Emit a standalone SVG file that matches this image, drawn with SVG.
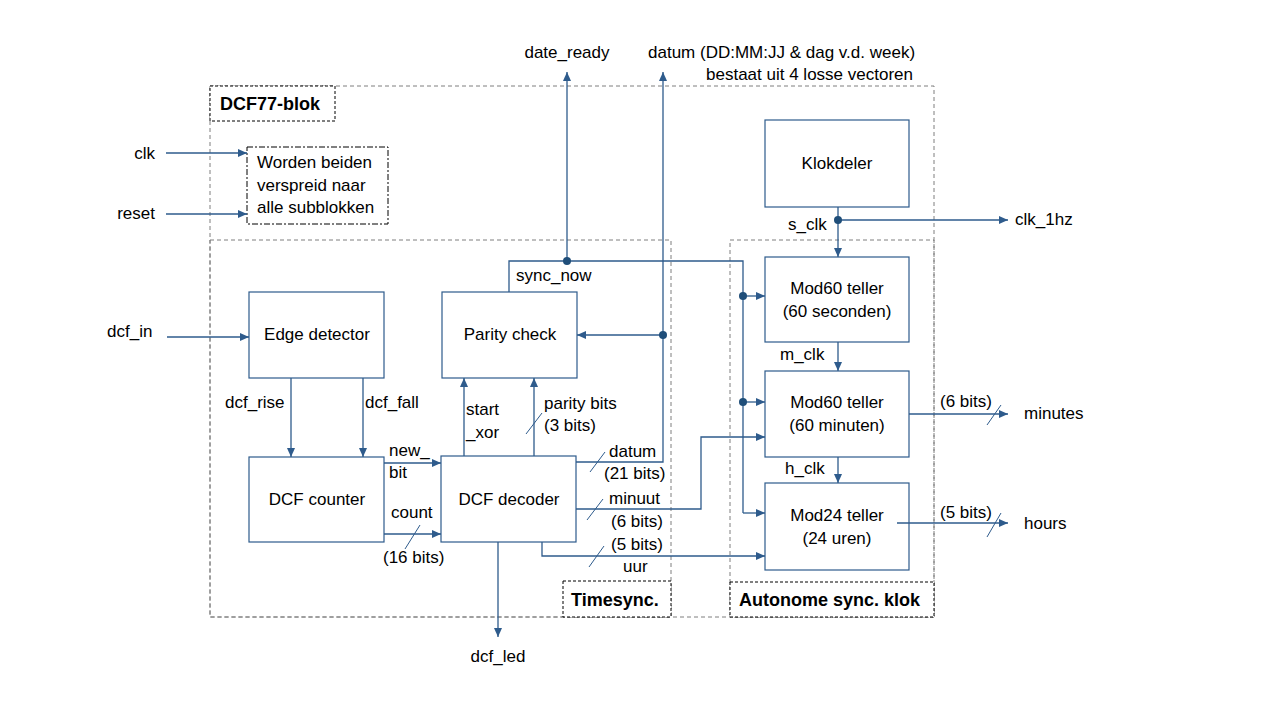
<svg xmlns="http://www.w3.org/2000/svg" width="1280" height="720" viewBox="0 0 1280 720">
<style>
text{font-family:"Liberation Sans",Arial,sans-serif;font-size:17px;fill:#000}
.c{text-anchor:middle}
.e{text-anchor:end}
.b{font-weight:bold;font-size:18px}
.box{fill:#fff;stroke:#2e5b8c;stroke-width:1.2}
.reg{fill:none;stroke:#7f7f7f;stroke-width:1;stroke-dasharray:4 3}
.lbl{fill:#fff;stroke:#000;stroke-width:1;stroke-dasharray:3 2}
.note{fill:#fff;stroke:#000;stroke-width:1;stroke-dasharray:6 2 2 2}
.w{fill:none;stroke:#2e5b8c;stroke-width:1.3}
.a{marker-end:url(#ah)}
.sl{stroke:#2e5b8c;stroke-width:1}
.dot{fill:#1f4e79}
</style>
<defs>
<marker id="ah" markerUnits="userSpaceOnUse" markerWidth="9" markerHeight="8" refX="9" refY="4" orient="auto">
<path d="M0,0 L9,4 L0,8 z" fill="#2e5b8c"/>
</marker>
</defs>
<rect width="1280" height="720" fill="#fff"/>

<g id="regions">
<rect class="reg" x="210" y="86" width="724" height="531"/>
<rect class="reg" x="210" y="240" width="461" height="377"/>
<rect class="reg" x="730" y="240" width="204" height="377"/>
</g>

<g id="label-dcf77">
<rect class="lbl" x="210" y="86" width="125" height="35"/>
<text class="b" x="220" y="110">DCF77-blok</text>
</g>
<g id="label-timesync">
<rect class="lbl" x="563" y="581" width="108" height="36"/>
<text class="b" x="571" y="606">Timesync.</text>
</g>
<g id="label-autonome">
<rect class="lbl" x="730" y="582" width="204" height="35"/>
<text class="b" x="739" y="606">Autonome sync. klok</text>
</g>

<g id="note">
<rect class="note" x="247" y="147" width="141" height="77"/>
<text x="257" y="168">Worden beiden</text>
<text x="257" y="191">verspreid naar</text>
<text x="257" y="213">alle subblokken</text>
</g>

<g id="edge-detector">
<rect class="box" x="249" y="292" width="135" height="86"/>
<text class="c" x="317" y="340">Edge detector</text>
</g>
<g id="dcf-counter">
<rect class="box" x="249" y="457" width="135" height="85"/>
<text class="c" x="317" y="505">DCF counter</text>
</g>
<g id="parity-check">
<rect class="box" x="442" y="292" width="135" height="86"/>
<text class="c" x="510" y="340">Parity check</text>
</g>
<g id="dcf-decoder">
<rect class="box" x="441" y="456" width="135" height="86"/>
<text class="c" x="509" y="505">DCF decoder</text>
</g>
<g id="klokdeler">
<rect class="box" x="765" y="120" width="144" height="87"/>
<text class="c" x="837" y="169">Klokdeler</text>
</g>
<g id="mod60-sec">
<rect class="box" x="765" y="257" width="144" height="85"/>
<text class="c" x="837" y="294">Mod60 teller</text>
<text class="c" x="837" y="317">(60 seconden)</text>
</g>
<g id="mod60-min">
<rect class="box" x="765" y="371" width="144" height="86"/>
<text class="c" x="837" y="408">Mod60 teller</text>
<text class="c" x="837" y="431">(60 minuten)</text>
</g>
<g id="mod24">
<rect class="box" x="765" y="483" width="144" height="87"/>
<text class="c" x="837" y="521">Mod24 teller</text>
<text class="c" x="837" y="544">(24 uren)</text>
</g>

<g id="connectors">
<path class="w a" d="M166,153 H247"/>
<path class="w a" d="M166,214 H247"/>
<path class="w a" d="M167,337 H249"/>
<path class="w a" d="M291,378 V457"/>
<path class="w a" d="M363,378 V457"/>
<path class="w a" d="M384,463 H441"/>
<path class="w a" d="M384,534 H441"/>
<path class="w a" d="M464,456 V378"/>
<path class="w a" d="M534,456 V378"/>
<path class="w a" d="M576,462 H663 V72"/>
<path class="w a" d="M663,335 H577"/>
<path class="w" d="M509,292 V261 H743 V513"/>
<path class="w a" d="M743,513 H765"/>
<path class="w a" d="M567,261 V72"/>
<path class="w a" d="M743,296 H765"/>
<path class="w a" d="M743,402 H765"/>
<path class="w a" d="M576,509 H701 V437 H765"/>
<path class="w a" d="M542,542 V556 H765"/>
<path class="w a" d="M498,542 V637"/>
<path class="w a" d="M838,207 V257"/>
<path class="w a" d="M838,220 H1008"/>
<path class="w a" d="M838,342 V371"/>
<path class="w a" d="M838,457 V483"/>
<path class="w a" d="M909,414 H1008"/>
<path class="w a" d="M897,523 H1008"/>
<circle class="dot" cx="567" cy="261" r="4"/>
<circle class="dot" cx="663" cy="335" r="4"/>
<circle class="dot" cx="743" cy="296" r="4"/>
<circle class="dot" cx="743" cy="402" r="4"/>
<circle class="dot" cx="838" cy="220" r="4"/>
<line class="sl" x1="405" y1="549" x2="420" y2="525"/>
<line class="sl" x1="526" y1="434" x2="542" y2="413"/>
<line class="sl" x1="590" y1="472" x2="605" y2="452"/>
<line class="sl" x1="587" y1="520" x2="603" y2="499"/>
<line class="sl" x1="589" y1="567" x2="604" y2="546"/>
<line class="sl" x1="987" y1="425" x2="1001" y2="405"/>
<line class="sl" x1="987" y1="537" x2="1001" y2="513"/>
</g>

<g id="labels">
<text class="e" x="155" y="159">clk</text>
<text class="e" x="155" y="219">reset</text>
<text x="107" y="337">dcf_in</text>
<text x="225" y="408">dcf_rise</text>
<text x="365" y="408">dcf_fall</text>
<text x="389" y="456">new_</text>
<text x="389" y="478">bit</text>
<text x="391" y="518">count</text>
<text x="383" y="563">(16 bits)</text>
<text x="466" y="415">start</text>
<text x="466" y="438">_xor</text>
<text x="544" y="409">parity bits</text>
<text x="544" y="431">(3 bits)</text>
<text x="516" y="281">sync_now</text>
<text x="609" y="457">datum</text>
<text x="604" y="479">(21 bits)</text>
<text x="609" y="504">minuut</text>
<text x="611" y="527">(6 bits)</text>
<text x="611" y="550">(5 bits)</text>
<text x="623" y="572">uur</text>
<text class="c" x="498" y="662">dcf_led</text>
<text class="c" x="567" y="58">date_ready</text>
<text x="648" y="58">datum (DD:MM:JJ &amp; dag v.d. week)</text>
<text class="e" x="913" y="80">bestaat uit 4 losse vectoren</text>
<text x="788" y="230">s_clk</text>
<text x="1015" y="225">clk_1hz</text>
<text x="780" y="360">m_clk</text>
<text x="785" y="474">h_clk</text>
<text x="940" y="407">(6 bits)</text>
<text x="1024" y="419">minutes</text>
<text x="940" y="518">(5 bits)</text>
<text x="1024" y="529">hours</text>
</g>
</svg>
